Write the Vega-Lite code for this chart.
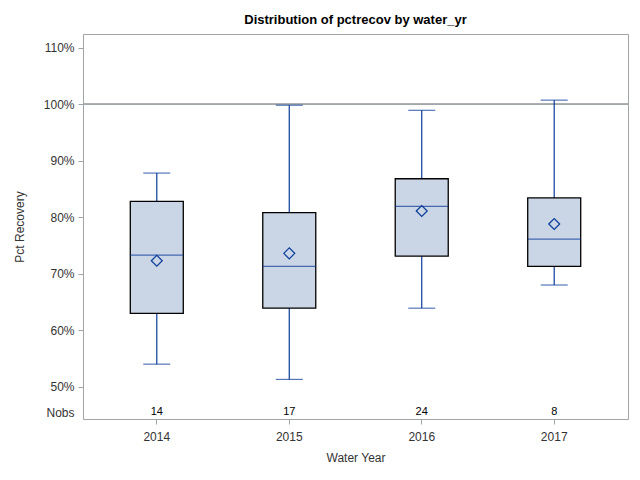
{
  "$schema": "https://vega.github.io/schema/vega-lite/v6.json",
  "autosize": "none",
  "width": 545,
  "height": 385,
  "padding": {"left": 83, "top": 34, "right": 12, "bottom": 61},
  "background": "white",
  "title": {"text": "Distribution of pctrecov by water_yr", "font": "Liberation Sans", "fontSize": 13, "fontWeight": "bold", "color": "black", "offset": 7},
  "config": {
    "view": {"stroke": "#A0A4A8", "strokeWidth": 1},
    "font": "Liberation Sans"
  },
  "data": {"values": [
    {"year": "2014", "low": 0.540, "q1": 0.630, "median": 0.733, "q3": 0.828, "high": 0.878, "mean": 0.723, "n": 14},
    {"year": "2015", "low": 0.513, "q1": 0.639, "median": 0.713, "q3": 0.808, "high": 0.998, "mean": 0.736, "n": 17},
    {"year": "2016", "low": 0.639, "q1": 0.731, "median": 0.819, "q3": 0.868, "high": 0.989, "mean": 0.811, "n": 24},
    {"year": "2017", "low": 0.680, "q1": 0.713, "median": 0.761, "q3": 0.834, "high": 1.007, "mean": 0.788, "n": 8}
  ]},
  "encoding": {
    "x": {"field": "year", "type": "nominal", "sort": null,
      "scale": {"paddingInner": 0, "paddingOuter": 0.057},
      "axis": {"title": "Water Year", "labelAngle": 0, "domain": false, "tickColor": "#A0A4A8", "tickSize": 5,
        "labelFontSize": 12, "labelColor": "#333333", "labelPadding": 7, "titleFontSize": 12, "titleFontWeight": "normal", "titleColor": "#333333", "titlePadding": 10}}
  },
  "layer": [
    {
      "mark": {"type": "rule", "color": "#A0A4A8", "strokeWidth": 1},
      "encoding": {"y": {"datum": 1.0, "type": "quantitative"}, "x": null}
    },
    {
      "mark": {"type": "rule", "color": "#0A3B9A", "strokeWidth": 1.2},
      "encoding": {
        "y": {"field": "low", "type": "quantitative",
          "scale": {"domain": [0.443, 1.124], "nice": false, "zero": false},
          "axis": {"title": "Pct Recovery", "values": [0.455, 0.5, 0.6, 0.7, 0.8, 0.9, 1.0, 1.1],
            "labelExpr": "datum.value < 0.47 ? 'Nobs' : format(datum.value, '.0%')",
            "tickOpacity": {"condition": {"test": "datum.value < 0.47", "value": 0}, "value": 1},
            "domain": false, "grid": false, "tickColor": "#A0A4A8", "tickSize": 5,
            "labelFontSize": 12, "labelColor": "#333333", "labelPadding": 4,
            "titleFontSize": 12, "titleFontWeight": "normal", "titleColor": "#333333", "titlePadding": 17}},
        "y2": {"field": "high"}
      }
    },
    {
      "mark": {"type": "bar", "size": 53, "fill": "#CAD5E5", "stroke": "black", "strokeWidth": 1.3},
      "encoding": {
        "y": {"field": "q1", "type": "quantitative"},
        "y2": {"field": "q3"}
      }
    },
    {
      "mark": {"type": "tick", "size": 53, "thickness": 1.2, "color": "#0A3B9A"},
      "encoding": {"y": {"field": "median", "type": "quantitative"}}
    },
    {
      "mark": {"type": "tick", "size": 27, "thickness": 1.2, "color": "#0A3B9A"},
      "encoding": {"y": {"field": "low", "type": "quantitative"}}
    },
    {
      "mark": {"type": "tick", "size": 27, "thickness": 1.2, "color": "#0A3B9A"},
      "encoding": {"y": {"field": "high", "type": "quantitative"}}
    },
    {
      "mark": {"type": "point", "shape": "diamond", "size": 120, "filled": false, "color": "#0A3B9A", "strokeWidth": 1.2, "opacity": 1},
      "encoding": {"y": {"field": "mean", "type": "quantitative"}}
    },
    {
      "mark": {"type": "text", "fontSize": 11, "color": "black", "baseline": "middle"},
      "encoding": {"y": {"datum": 0.455, "type": "quantitative"}, "text": {"field": "n"}}
    }
  ]
}
